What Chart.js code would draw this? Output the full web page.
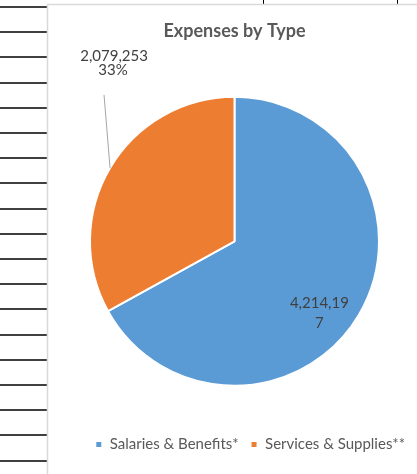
<!DOCTYPE html>
<html>
<head>
<meta charset="utf-8">
<script src="https://cdn.jsdelivr.net/npm/chart.js@4"></script>
<style>
  html, body { margin: 0; padding: 0; background: #fff; }
  #wrap { width: 417px; height: 474px; }
</style>
</head>
<body>
<div id="wrap"><canvas id="expensesChart" width="417" height="474"></canvas></div>
<script>
const categories = ["Salaries & Benefits*", "Services & Supplies**"];
const amounts = [4214197, 2079253];
const sliceColors = ["#5B9BD5", "#ED7D31"];
const chartTitle = "Expenses by Type";

const FONT = "Lato, 'Open Sans', sans-serif";

// hoja de calculo detras del grafico
const fondoHoja = {
  id: "fondoHoja",
  beforeDraw(chart) {
    const ctx = chart.ctx;
    ctx.save();
    ctx.fillStyle = "#fff";
    ctx.fillRect(0, 0, chart.width, chart.height);
    ctx.strokeStyle = "#000";
    ctx.lineWidth = 1.5;
    for (let y = 7; y < chart.height; y += 25.2) {
      ctx.beginPath();
      ctx.moveTo(0, Math.round(y));
      ctx.lineTo(47, Math.round(y));
      ctx.stroke();
    }
    ctx.lineWidth = 1;
    [263.5, 397.5].forEach((x) => {
      ctx.beginPath();
      ctx.moveTo(x, 0);
      ctx.lineTo(x, 4);
      ctx.stroke();
    });
    ctx.strokeStyle = "#d9d9d9";
    ctx.lineWidth = 1.5;
    ctx.beginPath();
    ctx.moveTo(47.5, chart.height);
    ctx.lineTo(47.5, 4.5);
    ctx.lineTo(chart.width, 4.5);
    ctx.stroke();
    ctx.restore();
  },
};

const partir = (ctx, txt, max) => {
  const lineas = [];
  let actual = "";
  for (const c of txt) {
    if (actual && ctx.measureText(actual + c).width > max) {
      lineas.push(actual);
      actual = c;
    } else {
      actual += c;
    }
  }
  lineas.push(actual);
  return lineas;
};

// etiquetas de datos estilo Excel
const etiquetas = {
  id: "etiquetas",
  afterDatasetsDraw(chart) {
    const ctx = chart.ctx;
    const total = amounts.reduce((a, b) => a + b, 0);
    ctx.save();
    ctx.font = "15px " + FONT;
    ctx.fillStyle = "#404040";
    ctx.textAlign = "center";
    ctx.textBaseline = "middle";
    chart.getDatasetMeta(0).data.forEach((arc, i) => {
      const { x, y, startAngle, endAngle, outerRadius } = arc.getProps(
        ["x", "y", "startAngle", "endAngle", "outerRadius"], true);
      const mid = (startAngle + endAngle) / 2;
      const valor = amounts[i].toLocaleString("en-US");
      const pct = Math.round((amounts[i] / total) * 100) + "%";
      if (amounts[i] / total > 0.5) {
        const a = mid + 0.17;
        const cx = x + outerRadius * 0.77 * Math.cos(a);
        const cy = y + outerRadius * 0.77 * Math.sin(a);
        const lineas = partir(ctx, valor, 63);
        lineas.forEach((l, k) => {
          ctx.fillText(l, cx, cy + (k - (lineas.length - 1) / 2) * 20);
        });
      } else {
        const ex = x + outerRadius * Math.cos(mid);
        const ey = y + outerRadius * Math.sin(mid);
        ctx.strokeStyle = "#a6a6a6";
        ctx.lineWidth = 1;
        ctx.beginPath();
        ctx.moveTo(ex - 6, ey - 73);
        ctx.lineTo(ex, ey);
        ctx.stroke();
        ctx.fillText(valor, ex + 4, ey - 112);
        ctx.fillText(pct, ex + 3, ey - 98);
      }
    });
    ctx.restore();
  },
};

new Chart(document.getElementById("expensesChart"), {
  type: "pie",
  data: {
    labels: categories,
    datasets: [
      {
        data: amounts,
        backgroundColor: sliceColors,
        borderColor: "#fff",
        borderWidth: 2,
      },
    ],
  },
  options: {
    responsive: false,
    animation: false,
    devicePixelRatio: 1,
    radius: 144.5,
    layout: { padding: { left: 52, right: 0, top: 0, bottom: 12 } },
    plugins: {
      title: {
        display: true,
        text: chartTitle,
        color: "#595959",
        font: { family: FONT, size: 18, weight: "bold" },
        padding: { top: 20, bottom: 16 },
      },
      legend: {
        position: "bottom",
        align: "end",
        labels: {
          color: "#595959",
          font: { family: FONT, size: 15 },
          boxWidth: 7,
          boxHeight: 7,
          padding: 12,
        },
      },
      tooltip: { enabled: false },
    },
  },
  plugins: [fondoHoja, etiquetas],
});
</script>
</body>
</html>
